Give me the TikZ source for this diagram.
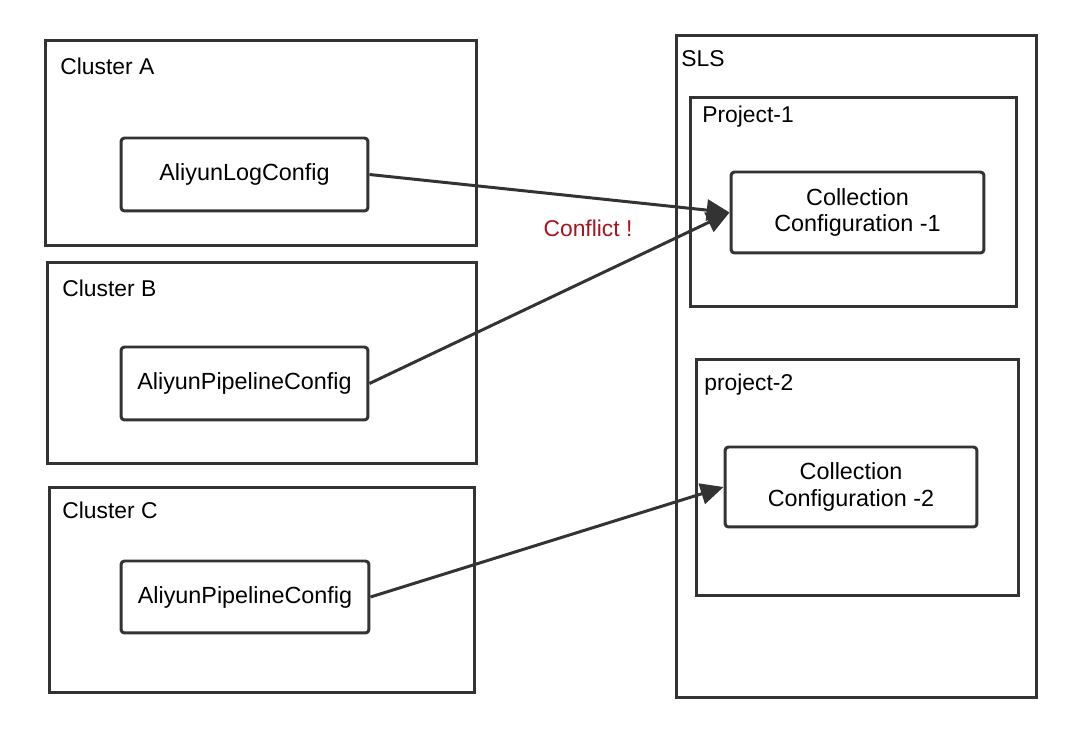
\documentclass[tikz,border=0pt]{standalone}
\usepackage{fontspec}
\setmainfont{Liberation Sans}
\usetikzlibrary{arrows.meta}
\definecolor{linegray}{HTML}{333333}
\definecolor{conflictred}{HTML}{A8141E}
\tikzset{
    frame/.style={draw=linegray,line width=1.7pt,inner sep=0pt},
    cfgbox/.style={draw=linegray,line width=1.7pt,rounded corners=2pt,align=center,
        font=\fontsize{13.3}{15}\selectfont},
    lbl/.style={anchor=west,inner sep=0pt,font=\fontsize{13}{15}\selectfont},
    link/.style={draw=linegray,line width=1.7pt,-{Triangle[length=13pt,width=12pt]}},
}
\begin{document}
\begin{tikzpicture}[x=0.02cm,y=-0.02cm]
    \useasboundingbox (0,0) rectangle (1080,733);

    % clusters
    \node[frame,minimum width=8.64cm,minimum height=4.12cm] (clA) at (261,143) {};
    \node[frame,minimum width=8.6cm,minimum height=4.04cm] (clB) at (262,363) {};
    \node[frame,minimum width=8.52cm,minimum height=4.12cm] (clC) at (262,590) {};
    \node[lbl] (labA) at (60,66) {Cluster A};
    \node[lbl] (labB) at (62,288) {Cluster B};
    \node[lbl] (labC) at (62,510) {Cluster C};

    % SLS side
    \node[frame,minimum width=7.22cm,minimum height=13.26cm] (sls) at (856.5,366.5) {};
    \node[frame,minimum width=6.54cm,minimum height=4.2cm] (prj1) at (853.5,202) {};
    \node[frame,minimum width=6.46cm,minimum height=4.74cm] (prj2) at (857.5,477.5) {};
    \node[lbl] (labsls) at (681,59) {SLS};
    \node[lbl] (labp1) at (702,117) {Project-1};
    \node[lbl] (labp2) at (704,385) {project-2};

    % configs
    \node[cfgbox,minimum width=4.94cm,minimum height=1.46cm] (logcfg) at (244.5,174.5) {AliyunLogConfig};
    \node[cfgbox,minimum width=4.94cm,minimum height=1.46cm] (pipeB) at (244.5,383.5) {AliyunPipelineConfig};
    \node[cfgbox,minimum width=4.96cm,minimum height=1.44cm] (pipeC) at (245,597) {AliyunPipelineConfig};
    \node[cfgbox,minimum width=5.06cm,minimum height=1.62cm] (coll1) at (857.5,212.5) {Collection\\Configuration -1};
    \node[cfgbox,minimum width=5.04cm,minimum height=1.6cm] (coll2) at (851,487) {Collection\\Configuration -2};

    \draw[link] (logcfg.east) -- (coll1.west);
    \draw[link] (pipeB.east) -- (coll1.west);
    \draw[link] (pipeC.east) -- (coll2.west);

    \node[lbl,anchor=center,text=conflictred] (conf) at (588,228) {Conflict !};
\end{tikzpicture}
\end{document}
